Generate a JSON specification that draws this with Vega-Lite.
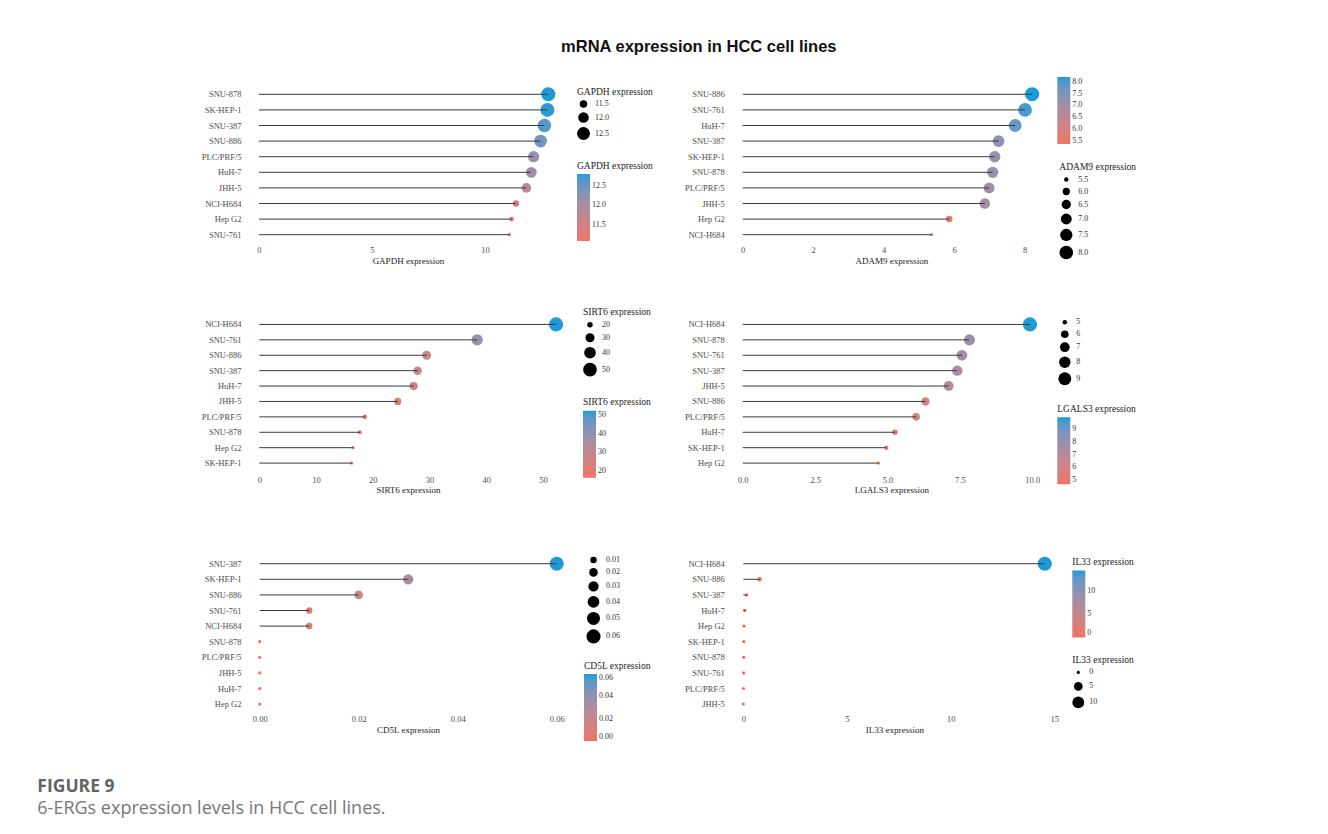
{
  "$schema": "https://vega.github.io/schema/vega-lite/v6.json",
  "background": "white",
  "padding": {"left": 37, "top": 38.5, "right": 5, "bottom": 5},
  "title": {
    "text": "mRNA expression in HCC cell lines",
    "font": "Liberation Sans",
    "fontSize": 16.5,
    "fontWeight": "bold",
    "color": "#111111",
    "anchor": "middle",
    "offset": 22,
    "dx": 112
  },
  "datasets": {
    "gapdh": [
      {"cell": "SNU-878", "expr": 12.80},
      {"cell": "SK-HEP-1", "expr": 12.76},
      {"cell": "SNU-387", "expr": 12.63},
      {"cell": "SNU-886", "expr": 12.46},
      {"cell": "PLC/PRF/5", "expr": 12.15},
      {"cell": "HuH-7", "expr": 12.05},
      {"cell": "JHH-5", "expr": 11.83},
      {"cell": "NCI-H684", "expr": 11.37},
      {"cell": "Hep G2", "expr": 11.18},
      {"cell": "SNU-761", "expr": 11.08}
    ],
    "adam9": [
      {"cell": "SNU-886", "expr": 8.21},
      {"cell": "SNU-761", "expr": 8.01},
      {"cell": "HuH-7", "expr": 7.73},
      {"cell": "SNU-387", "expr": 7.26},
      {"cell": "SK-HEP-1", "expr": 7.15},
      {"cell": "SNU-878", "expr": 7.09},
      {"cell": "PLC/PRF/5", "expr": 6.99},
      {"cell": "JHH-5", "expr": 6.87},
      {"cell": "Hep G2", "expr": 5.86},
      {"cell": "NCI-H684", "expr": 5.36}
    ],
    "sirt6": [
      {"cell": "NCI-H684", "expr": 52.3},
      {"cell": "SNU-761", "expr": 38.4},
      {"cell": "SNU-886", "expr": 29.5},
      {"cell": "SNU-387", "expr": 27.9},
      {"cell": "HuH-7", "expr": 27.2},
      {"cell": "JHH-5", "expr": 24.4},
      {"cell": "PLC/PRF/5", "expr": 18.6},
      {"cell": "SNU-878", "expr": 17.7},
      {"cell": "Hep G2", "expr": 16.5},
      {"cell": "SK-HEP-1", "expr": 16.3}
    ],
    "lgals3": [
      {"cell": "NCI-H684", "expr": 9.92},
      {"cell": "SNU-878", "expr": 7.83},
      {"cell": "SNU-761", "expr": 7.57},
      {"cell": "SNU-387", "expr": 7.41},
      {"cell": "JHH-5", "expr": 7.11},
      {"cell": "SNU-886", "expr": 6.31},
      {"cell": "PLC/PRF/5", "expr": 5.99},
      {"cell": "HuH-7", "expr": 5.26},
      {"cell": "SK-HEP-1", "expr": 4.96},
      {"cell": "Hep G2", "expr": 4.69}
    ],
    "cd5l": [
      {"cell": "SNU-387", "expr": 0.06},
      {"cell": "SK-HEP-1", "expr": 0.03},
      {"cell": "SNU-886", "expr": 0.02},
      {"cell": "SNU-761", "expr": 0.01},
      {"cell": "NCI-H684", "expr": 0.01},
      {"cell": "SNU-878", "expr": 0},
      {"cell": "PLC/PRF/5", "expr": 0},
      {"cell": "JHH-5", "expr": 0},
      {"cell": "HuH-7", "expr": 0},
      {"cell": "Hep G2", "expr": 0}
    ],
    "il33": [
      {"cell": "NCI-H684", "expr": 14.54},
      {"cell": "SNU-886", "expr": 0.79},
      {"cell": "SNU-387", "expr": 0.16},
      {"cell": "HuH-7", "expr": 0.08},
      {"cell": "Hep G2", "expr": 0.04},
      {"cell": "SK-HEP-1", "expr": 0.03},
      {"cell": "SNU-878", "expr": 0.02},
      {"cell": "SNU-761", "expr": 0.02},
      {"cell": "PLC/PRF/5", "expr": 0.01},
      {"cell": "JHH-5", "expr": 0}
    ]
  },
  "config": {
    "view": {"stroke": null},
    "font": "Liberation Serif",
    "axis": {
      "domain": false, "ticks": false, "grid": false,
      "labelFont": "Liberation Serif", "labelFontSize": 8.5, "labelColor": "#4d4d4d",
      "titleFont": "Liberation Serif", "titleFontSize": 9, "titleFontWeight": "normal", "titleColor": "#222222",
      "labelPadding": 4
    },
    "axisX": {"titlePadding": 2, "labelPadding": 3, "labelFlush": false},
    "legend": {
      "orient": "none", "direction": "vertical", "padding": 0,
      "labelFont": "Liberation Serif", "labelFontSize": 8, "labelColor": "#333333", "labelOffset": 5,
      "titleFont": "Liberation Serif", "titleFontSize": 9.5, "titleFontWeight": "normal", "titleColor": "#222222", "titlePadding": 4,
      "gradientLength": 67, "gradientThickness": 13, "gradientStrokeWidth": 0,
      "rowPadding": 4, "symbolFillColor": "black", "symbolStrokeWidth": 0, "symbolOpacity": 1
    }
  },
  "columns": 2,
  "spacing": {"row": 73.2, "column": 157.3},
  "bounds": "flush",
  "align": "each",
  "resolve": {
    "scale": {"color": "independent", "size": "independent"},
    "legend": {"color": "independent", "size": "independent"}
  },
  "concat": [
    {
      "width": 326, "height": 156,
      "data": {"name": "gapdh"},
      "layer": [
        {
          "mark": {"type": "circle", "opacity": 1},
          "encoding": {
            "x": {"field": "expr", "type": "quantitative", "title": "GAPDH expression", "scale": {"domain": [-0.619, 13.805], "nice": false, "zero": false}, "axis": {"values": [0, 5, 10]}},
            "y": {"field": "cell", "type": "nominal", "sort": "-x", "title": null},
            "color": {"field": "expr", "type": "quantitative", "title": "GAPDH expression", "scale": {"domain": [11.08, 12.8], "nice": false, "range": ["#EF7466", "#1E9BD7"], "interpolate": "lab"}, "legend": {"values": [11.5, 12, 12.5], "format": ".1f", "legendX": 332, "legendY": 74}},
            "size": {"field": "expr", "type": "quantitative", "title": "GAPDH expression", "scale": {"zero": false, "nice": false, "range": [10, 200]}, "legend": {"values": [11.5, 12, 12.5], "format": ".1f", "legendX": 332, "legendY": 0, "encode": {"symbols": {"update": {"fill": {"value": "black"}, "opacity": {"value": 1}}}}}}
          }
        },
        {
          "mark": {"type": "rule", "color": "#3a3a3a", "strokeWidth": 1},
          "encoding": {
            "x": {"field": "expr", "type": "quantitative", "title": "GAPDH expression"},
            "x2": {"datum": 0},
            "y": {"field": "cell", "type": "nominal", "sort": "-x", "title": null}
          }
        }
      ]
    },
    {
      "width": 326, "height": 156,
      "data": {"name": "adam9"},
      "layer": [
        {
          "mark": {"type": "circle", "opacity": 1},
          "encoding": {
            "x": {"field": "expr", "type": "quantitative", "title": "ADAM9 expression", "scale": {"domain": [-0.4085, 8.84], "nice": false, "zero": false}, "axis": {"values": [0, 2, 4, 6, 8]}},
            "y": {"field": "cell", "type": "nominal", "sort": "-x", "title": null},
            "color": {"field": "expr", "type": "quantitative", "scale": {"domain": [5.36, 8.21], "nice": false, "range": ["#EF7466", "#1E9BD7"], "interpolate": "lab"}, "legend": {"title": null, "values": [5.5, 6, 6.5, 7, 7.5, 8], "format": ".1f", "legendX": 329, "legendY": -9.5}},
            "size": {"field": "expr", "type": "quantitative", "title": "ADAM9 expression", "scale": {"zero": false, "nice": false, "range": [10, 200]}, "legend": {"values": [5.5, 6, 6.5, 7, 7.5, 8], "format": ".1f", "legendX": 331, "legendY": 75.5, "rowPadding": 4, "encode": {"symbols": {"update": {"fill": {"value": "black"}, "opacity": {"value": 1}}}}}}
          }
        },
        {
          "mark": {"type": "rule", "color": "#3a3a3a", "strokeWidth": 1},
          "encoding": {
            "x": {"field": "expr", "type": "quantitative", "title": "ADAM9 expression"},
            "x2": {"datum": 0},
            "y": {"field": "cell", "type": "nominal", "sort": "-x", "title": null}
          }
        }
      ]
    },
    {
      "width": 326, "height": 167,
      "data": {"name": "sirt6"},
      "layer": [
        {
          "mark": {"type": "circle", "opacity": 1},
          "encoding": {
            "x": {"field": "expr", "type": "quantitative", "title": "SIRT6 expression", "scale": {"domain": [-2.52, 54.93], "nice": false, "zero": false}, "axis": {"values": [0, 10, 20, 30, 40, 50], "offset": -10.4}},
            "y": {"field": "cell", "type": "nominal", "sort": "-x", "title": null, "scale": {"padding": 0.84, "align": 0.29}},
            "color": {"field": "expr", "type": "quantitative", "title": "SIRT6 expression", "scale": {"domain": [16.3, 52.3], "nice": false, "range": ["#EF7466", "#1E9BD7"], "interpolate": "lab"}, "legend": {"values": [20, 30, 40, 50], "format": "d", "legendX": 338, "legendY": 81.5}},
            "size": {"field": "expr", "type": "quantitative", "title": "SIRT6 expression", "scale": {"zero": false, "nice": false, "range": [10, 200]}, "legend": {"values": [20, 30, 40, 50], "format": "d", "legendX": 338, "legendY": -8.5, "encode": {"symbols": {"update": {"fill": {"value": "black"}, "opacity": {"value": 1}}}}}}
          }
        },
        {
          "mark": {"type": "rule", "color": "#3a3a3a", "strokeWidth": 1},
          "encoding": {
            "x": {"field": "expr", "type": "quantitative", "title": "SIRT6 expression"},
            "x2": {"datum": 0},
            "y": {"field": "cell", "type": "nominal", "sort": "-x", "title": null}
          }
        }
      ]
    },
    {
      "width": 326, "height": 167,
      "data": {"name": "lgals3"},
      "layer": [
        {
          "mark": {"type": "circle", "opacity": 1},
          "encoding": {
            "x": {"field": "expr", "type": "quantitative", "title": "LGALS3 expression", "scale": {"domain": [-0.497, 10.76], "nice": false, "zero": false}, "axis": {"values": [0, 2.5, 5, 7.5, 10], "format": ".1f", "offset": -10.4}},
            "y": {"field": "cell", "type": "nominal", "sort": "-x", "title": null, "scale": {"padding": 0.84, "align": 0.29}},
            "color": {"field": "expr", "type": "quantitative", "title": "LGALS3 expression", "scale": {"domain": [4.69, 9.92], "nice": false, "range": ["#EF7466", "#1E9BD7"], "interpolate": "lab"}, "legend": {"values": [5, 6, 7, 8, 9], "format": "d", "legendX": 329, "legendY": 88}},
            "size": {"field": "expr", "type": "quantitative", "scale": {"zero": false, "nice": false, "range": [10, 200]}, "legend": {"title": null, "values": [5, 6, 7, 8, 9], "format": "d", "legendX": 330, "legendY": 2.5, "encode": {"symbols": {"update": {"fill": {"value": "black"}, "opacity": {"value": 1}}}}}}
          }
        },
        {
          "mark": {"type": "rule", "color": "#3a3a3a", "strokeWidth": 1},
          "encoding": {
            "x": {"field": "expr", "type": "quantitative", "title": "LGALS3 expression"},
            "x2": {"datum": 0},
            "y": {"field": "cell", "type": "nominal", "sort": "-x", "title": null}
          }
        }
      ]
    },
    {
      "width": 326, "height": 156,
      "data": {"name": "cd5l"},
      "title": {
        "text": "FIGURE 9",
        "subtitle": "6-ERGs expression levels in HCC cell lines.",
        "orient": "bottom",
        "anchor": "start",
        "font": "Open Sans",
        "fontSize": 17.5,
        "fontWeight": "bold",
        "color": "#636363",
        "subtitleFont": "Open Sans",
        "subtitleFontSize": 18,
        "subtitleColor": "#777777",
        "subtitlePadding": 4.5,
        "offset": 36.8,
        "dx": -164
      },
      "layer": [
        {
          "mark": {"type": "circle", "opacity": 1},
          "encoding": {
            "x": {"field": "expr", "type": "quantitative", "title": "CD5L expression", "scale": {"domain": [-0.00297, 0.06289], "nice": false, "zero": false}, "axis": {"values": [0, 0.02, 0.04, 0.06], "format": ".2f"}},
            "y": {"field": "cell", "type": "nominal", "title": null, "sort": ["SNU-387", "SK-HEP-1", "SNU-886", "SNU-761", "NCI-H684", "SNU-878", "PLC/PRF/5", "JHH-5", "HuH-7", "Hep G2"]},
            "color": {"field": "expr", "type": "quantitative", "title": "CD5L expression", "scale": {"domain": [0, 0.06], "nice": false, "range": ["#EF7466", "#1E9BD7"], "interpolate": "lab"}, "legend": {"values": [0, 0.01, 0.02, 0.03, 0.04, 0.05, 0.06], "format": ".2f", "legendX": 339, "legendY": 104.7}},
            "size": {"field": "expr", "type": "quantitative", "scale": {"zero": false, "nice": false, "range": [10, 200]}, "legend": {"title": null, "values": [0.01, 0.02, 0.03, 0.04, 0.05, 0.06], "format": ".2f", "legendX": 341, "legendY": 0, "rowPadding": 4, "encode": {"symbols": {"update": {"fill": {"value": "black"}, "opacity": {"value": 1}}}}}}
          }
        },
        {
          "mark": {"type": "rule", "color": "#3a3a3a", "strokeWidth": 1},
          "encoding": {
            "x": {"field": "expr", "type": "quantitative", "title": "CD5L expression"},
            "x2": {"datum": 0},
            "y": {"field": "cell", "type": "nominal", "title": null, "sort": ["SNU-387", "SK-HEP-1", "SNU-886", "SNU-761", "NCI-H684", "SNU-878", "PLC/PRF/5", "JHH-5", "HuH-7", "Hep G2"]}
          }
        }
      ]
    },
    {
      "width": 332, "height": 156,
      "data": {"name": "il33"},
      "layer": [
        {
          "mark": {"type": "circle", "opacity": 1},
          "encoding": {
            "x": {"field": "expr", "type": "quantitative", "title": "IL33 expression", "scale": {"domain": [-0.7236, 15.29], "nice": false, "zero": false}, "axis": {"values": [0, 5, 10, 15]}},
            "y": {"field": "cell", "type": "nominal", "title": null, "sort": ["NCI-H684", "SNU-886", "SNU-387", "HuH-7", "Hep G2", "SK-HEP-1", "SNU-878", "SNU-761", "PLC/PRF/5", "JHH-5"]},
            "color": {"field": "expr", "type": "quantitative", "title": "IL33 expression", "scale": {"domain": [0, 14.54], "nice": false, "range": ["#EF7466", "#1E9BD7"], "interpolate": "lab"}, "legend": {"values": [0, 5, 10], "format": "d", "legendX": 344, "legendY": 1}},
            "size": {"field": "expr", "type": "quantitative", "title": "IL33 expression", "scale": {"zero": false, "nice": false, "range": [10, 200]}, "legend": {"values": [0, 5, 10], "format": "d", "legendX": 344, "legendY": 99, "rowPadding": 5.5, "encode": {"symbols": {"update": {"fill": {"value": "black"}, "opacity": {"value": 1}}}}}}
          }
        },
        {
          "mark": {"type": "rule", "color": "#3a3a3a", "strokeWidth": 1},
          "encoding": {
            "x": {"field": "expr", "type": "quantitative", "title": "IL33 expression"},
            "x2": {"datum": 0},
            "y": {"field": "cell", "type": "nominal", "title": null, "sort": ["NCI-H684", "SNU-886", "SNU-387", "HuH-7", "Hep G2", "SK-HEP-1", "SNU-878", "SNU-761", "PLC/PRF/5", "JHH-5"]}
          }
        }
      ]
    }
  ]
}
